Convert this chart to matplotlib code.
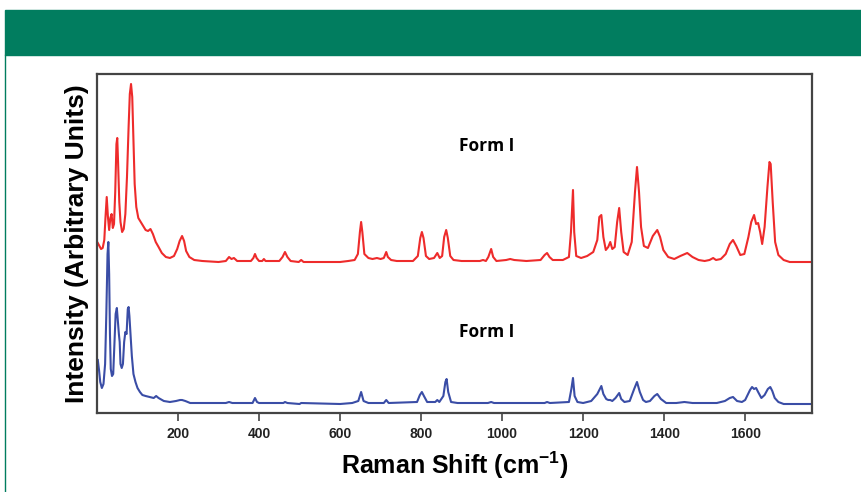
import numpy as np
import matplotlib.pyplot as plt
from matplotlib.patches import Rectangle
from matplotlib.lines import Line2D

plt.rcParams['mathtext.fontset'] = 'custom'
plt.rcParams['mathtext.rm'] = 'Liberation Sans'
plt.rcParams['mathtext.bf'] = 'Liberation Sans:bold'

# Raman spectra: (shift cm-1, intensity a.u.)
form_red = [
    (2, 19), (6, 16), (10, 13), (14, 14), (18, 22), (21, 45), (24, 65), (27, 45), (30, 32), (33, 44),
    (36, 48), (39, 34), (42, 38), (45, 70), (48, 118), (50, 124), (52, 100), (55, 60), (58, 40), (62, 30),
    (66, 33), (70, 48), (74, 85), (78, 135), (81, 168), (84, 178), (87, 165), (90, 120), (93, 78), (97, 55),
    (102, 44), (108, 40), (114, 36), (120, 32), (126, 31), (132, 33), (138, 28), (145, 20), (152, 15), (160, 9),
    (170, 5), (180, 4), (190, 6), (198, 13), (204, 21), (210, 26), (215, 21), (220, 11), (228, 5), (240, 2),
    (260, 1), (300, 0), (318, 1), (326, 5), (332, 3), (338, 4), (346, 1), (380, 1), (386, 4), (390, 8),
    (394, 4), (400, 1), (408, 1), (412, 3), (416, 1), (450, 1), (458, 5), (464, 10), (470, 5), (478, 1),
    (498, 0), (504, 2), (510, 0), (600, 0), (620, 1), (636, 2), (644, 8), (649, 30), (652, 40), (655, 30),
    (660, 8), (670, 4), (680, 3), (691, 4), (700, 3), (708, 4), (714, 10), (718, 5), (726, 2), (740, 1),
    (780, 1), (792, 6), (798, 24), (802, 30), (806, 24), (812, 6), (820, 3), (832, 4), (840, 9), (846, 4),
    (852, 6), (857, 25), (862, 32), (866, 24), (872, 6), (880, 2), (900, 1), (945, 1), (953, 2), (960, 1),
    (966, 5), (973, 13), (978, 5), (986, 1), (1010, 2), (1020, 3), (1030, 2), (1060, 1), (1095, 2), (1105, 7),
    (1111, 9), (1117, 5), (1125, 2), (1150, 2), (1165, 5), (1170, 30), (1175, 72), (1178, 30), (1183, 6), (1195, 4),
    (1210, 6), (1225, 10), (1235, 22), (1240, 45), (1245, 47), (1250, 25), (1256, 12), (1262, 15), (1267, 20), (1272, 13),
    (1278, 15), (1284, 40), (1289, 54), (1294, 30), (1300, 10), (1310, 7), (1320, 20), (1328, 70), (1333, 95), (1338, 70),
    (1343, 35), (1350, 16), (1360, 14), (1372, 26), (1383, 32), (1390, 25), (1398, 12), (1410, 5), (1425, 3), (1440, 6),
    (1457, 9), (1470, 5), (1485, 2), (1500, 1), (1512, 2), (1521, 4), (1528, 2), (1540, 3), (1552, 8), (1562, 18),
    (1570, 22), (1578, 16), (1588, 7), (1598, 8), (1608, 25), (1615, 40), (1622, 47), (1627, 38), (1632, 39), (1637, 30),
    (1642, 18), (1648, 35), (1655, 75), (1660, 100), (1663, 98), (1668, 60), (1674, 20), (1682, 7), (1695, 2), (1710, 0),
    (1765, 0),
]

form_blue = [
    (2, 44), (5, 34), (8, 22), (12, 16), (16, 20), (20, 40), (23, 90), (26, 150), (28, 162), (30, 130),
    (32, 70), (34, 35), (37, 28), (40, 30), (43, 60), (46, 90), (49, 96), (52, 80), (54, 70), (56, 62),
    (58, 40), (61, 36), (64, 40), (67, 62), (70, 72), (73, 70), (76, 95), (78, 97), (80, 88), (83, 68),
    (86, 48), (90, 30), (95, 22), (100, 16), (106, 12), (112, 9), (120, 8), (130, 7), (140, 6), (146, 8),
    (152, 6), (165, 3), (180, 2), (195, 3), (205, 4), (210, 4), (218, 3), (230, 1), (260, 1), (318, 1),
    (326, 2), (334, 1), (384, 1), (390, 6), (395, 2), (400, 1), (460, 1), (464, 2), (470, 1), (500, 0),
    (504, 1), (600, 0), (630, 1), (645, 3), (652, 12), (658, 3), (670, 1), (708, 1), (714, 4), (720, 1),
    (790, 2), (797, 9), (802, 12), (807, 8), (815, 2), (835, 2), (840, 4), (845, 2), (855, 8), (860, 22),
    (863, 25), (867, 12), (874, 2), (890, 1), (965, 1), (973, 2), (980, 1), (1105, 1), (1111, 2), (1118, 1),
    (1165, 2), (1171, 15), (1175, 26), (1179, 8), (1186, 2), (1200, 1), (1220, 3), (1235, 10), (1245, 18), (1250, 10),
    (1257, 5), (1262, 4), (1267, 4), (1272, 3), (1280, 6), (1289, 11), (1294, 5), (1302, 2), (1315, 3), (1326, 15),
    (1333, 22), (1340, 12), (1348, 4), (1355, 2), (1365, 3), (1376, 8), (1383, 10), (1392, 5), (1405, 1), (1430, 1),
    (1450, 2), (1470, 1), (1530, 1), (1550, 3), (1562, 6), (1570, 7), (1580, 3), (1592, 2), (1600, 4), (1612, 14),
    (1617, 17), (1622, 15), (1627, 16), (1632, 12), (1640, 6), (1648, 9), (1656, 15), (1662, 17), (1667, 13), (1673, 6),
    (1682, 2), (1695, 0), (1765, 0),
]

labels = ["Form I", "Form I"]
xticks = [200, 400, 600, 800, 1000, 1200, 1400, 1600]

W, H = 862, 492
fig = plt.figure(figsize=(W / 100, H / 100), dpi=100)

# green header band and thin left rule
fig.patches.append(Rectangle((5 / W, 1 - 55 / H), 1 - 5 / W, 45 / H,
                             transform=fig.transFigure, color="#017D5F", zorder=0))
fig.lines.append(Line2D([5.5 / W, 5.5 / W], [0, 1 - 55 / H], transform=fig.transFigure,
                        color="#017D5F", lw=1.0))

ax = fig.add_axes([97 / W, (H - 413) / H, 715 / W, 339 / H])

red = np.array(form_red, dtype=float)
blue = np.array(form_blue, dtype=float)
off_red, off_blue = 151, 9
ax.plot(red[:, 0], red[:, 1] + off_red, color="#EE2B2B", lw=1.5)
ax.plot(blue[:, 0], blue[:, 1] + off_blue, color="#3A4DA6", lw=1.5)

ax.set_xlim(0, 1765)
ax.set_ylim(0, 339)
ax.set_yticks([])
ax.set_xticks(xticks)
ax.set_xticklabels([str(t) for t in xticks], fontfamily="Liberation Sans",
                   fontweight="bold", fontsize=10, color="#222222")
ax.tick_params(axis="x", direction="out", length=6, width=1.2, color="#444444", pad=4)
for s in ax.spines.values():
    s.set_color("#444444")
    s.set_linewidth(1.6)

ax.text(963, 267, labels[0], fontfamily="Open Sans", fontweight="bold", fontsize=12.5,
        ha="center", va="center")
ax.text(963, 81, labels[1], fontfamily="Open Sans", fontweight="bold", fontsize=12.5,
        ha="center", va="center")

ax.set_ylabel("Intensity (Arbitrary Units)", fontfamily="Liberation Sans", fontweight="bold",
              fontsize=19, labelpad=6)
ax.set_xlabel("Raman Shift (cm$^{\\mathbf{-1}}$)", fontfamily="Liberation Sans",
              fontweight="bold", fontsize=18, labelpad=6)

fig.savefig("out.png", dpi=100)
